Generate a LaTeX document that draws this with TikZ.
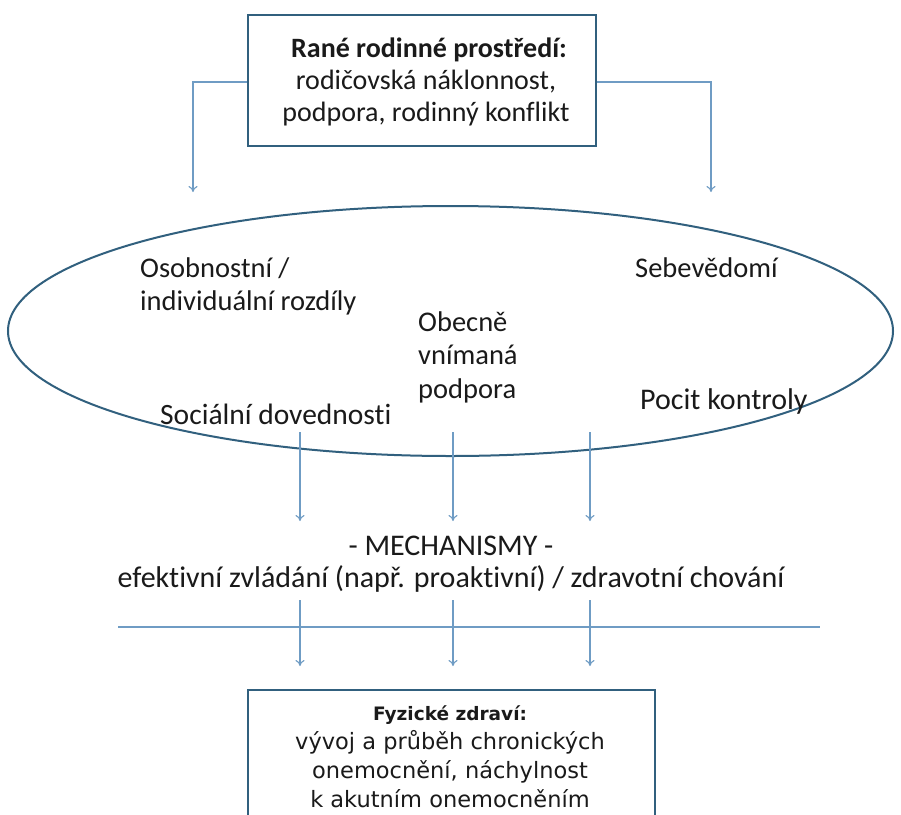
\documentclass[tikz,border=0pt]{standalone}
\usepackage{fontspec}
\setmainfont{Carlito}[Ligatures=NoCommon]
\newfontfamily\boxfont{DejaVu Sans}
\usetikzlibrary{arrows.meta,shapes.geometric}
\definecolor{boxline}{HTML}{31607E}
\definecolor{arrowline}{HTML}{6F9CC4}
\definecolor{txt}{HTML}{1A1A1A}
\tikzset{
  x=1pt,y=-1pt,
  frame/.style={draw=boxline,line width=2.4pt,inner sep=0pt},
  conn/.style={draw=arrowline,line width=1.1pt},
  arr/.style={conn,-{To[length=6pt,width=9pt]}},
  lbl/.style={font=\fontsize{28.5}{33.5}\selectfont,text=txt,inner sep=0pt,align=left,anchor=base west},
}
\begin{document}
\begin{tikzpicture}
\useasboundingbox (0,0) rectangle (901,814);
\clip (0,0) rectangle (901,814);
\fill[white] (0,0) rectangle (901,814);
% top box
\node[frame,minimum width=348pt,minimum height=131pt] (top) at (422,80.5) {};
\node[font=\fontsize{28}{32}\selectfont,text=txt,align=center,inner sep=0pt,anchor=base] (toptxt) at (426,121)
  {\hspace*{6pt}\textbf{Rané rodinné prostředí:}\\ rodičovská náklonnost,\\ podpora, rodinný konflikt};
% ellipse
\node[ellipse,draw=boxline,line width=2pt,minimum width=885pt,minimum height=250pt,inner sep=0pt] (ell) at (450.5,331) {};
% connectors from top box
\coordinate (lcorner) at (193,82);
\coordinate (rcorner) at (711,82);
\coordinate (lend) at (193,192);
\coordinate (rend) at (711,192);
\draw[arr] (top.west |- lcorner) -- (lcorner) -- (lend);
\draw[arr] (top.east |- rcorner) -- (rcorner) -- (rend);
% labels in ellipse
\node[lbl] (osob) at (140,310.5) {Osobnostní /\\individuální rozdíly};
\node[lbl] (obec) at (418,398) {Obecně\\vnímaná\\podpora};
\node[lbl] (sebe) at (635,277) {Sebevědomí};
\node[lbl,font=\fontsize{30}{33.5}\selectfont] (pocit) at (640,409) {Pocit kontroly};
\node[lbl,font=\fontsize{29.5}{33.5}\selectfont] (soc) at (160,424) {Sociální dovednosti};
% mechanisms
\node[font=\fontsize{30}{32}\selectfont,text=txt,align=center,inner sep=0pt,anchor=base] (mech) at (451,587)
  {- MECHANISMY -\\efektivní zvládání (např. proaktivní) / zdravotní chování};
\foreach \xx/\nm in {300/a,453/b,590/c}{
  \coordinate (s\nm) at (\xx,432);
  \coordinate (e\nm) at (\xx,521);
  \coordinate (t\nm) at (\xx,600);
  \coordinate (f\nm) at (\xx,666);
  \draw[arr] (s\nm) -- (e\nm);
  \draw[arr] (t\nm) -- (f\nm);
}
\coordinate (hl) at (118,627);
\coordinate (hr) at (820,627);
\draw[conn] (hl) -- (hr);
% bottom box
\node[frame,minimum width=407pt,minimum height=150pt] (bot) at (451.5,765) {};
\node[font=\boxfont\fontsize{22.5}{28.7}\selectfont,text=txt,align=center,inner sep=0pt,anchor=base] (bottxt) at (450,807)
  {{\fontsize{18.5}{20}\selectfont\textbf{Fyzické zdraví:}}\\vývoj a průběh chronických\\onemocnění, náchylnost\\ k akutním onemocněním};
\end{tikzpicture}
\end{document}
